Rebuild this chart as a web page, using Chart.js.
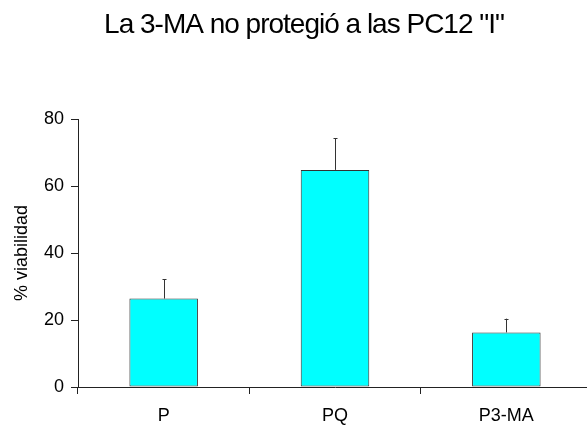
<!DOCTYPE html>
<html>
<head>
<meta charset="utf-8">
<script src="https://cdn.jsdelivr.net/npm/chart.js@4"></script>
<style>
  html, body { margin: 0; padding: 0; background: #fff; overflow: hidden; }
  #wrap { position: absolute; left: -8px; top: 0; width: 603px; height: 428px; }
</style>
</head>
<body>
<div id="wrap"><canvas id="grafico" width="603" height="428"></canvas></div>
<script>
const grupos = ['P', 'PQ', 'P3-MA']
const viabilidad = [26.4, 64.8, 16.3]
const errorEst = [5.7, 9.4, 4.1]
const ticksY = [0, 20, 40, 60, 80]
const titulo = 'La 3-MA no protegió a las PC12 "I"'

const fuente = '"Liberation Sans", Arial, sans-serif'
const lineaEje = '#222'

// barras de error (solo hacia arriba, con tope corto)
const barrasError = {
  id: 'barrasError',
  afterDatasetsDraw(chart) {
    const ctx = chart.ctx
    const meta = chart.getDatasetMeta(0)
    const y = chart.scales.y
    ctx.save()
    ctx.strokeStyle = '#333'
    ctx.lineWidth = 1
    meta.data.forEach((barra, i) => {
      const x = Math.round(barra.x) + 0.5
      const y0 = y.getPixelForValue(viabilidad[i])
      const y1 = y.getPixelForValue(viabilidad[i] + errorEst[i])
      ctx.beginPath()
      ctx.moveTo(x, y0)
      ctx.lineTo(x, y1)
      ctx.moveTo(x - 2, Math.round(y1) + 0.5)
      ctx.lineTo(x + 2, Math.round(y1) + 0.5)
      ctx.stroke()
    })
    ctx.restore()
  }
}

// titulo apretado (letra grande con poco espacio entre caracteres)
const tituloApretado = {
  id: 'tituloApretado',
  afterDraw(chart) {
    const ctx = chart.ctx
    ctx.save()
    ctx.font = '28px ' + fuente
    ctx.letterSpacing = '-1px'
    ctx.fillStyle = '#000'
    ctx.textAlign = 'center'
    ctx.textBaseline = 'alphabetic'
    ctx.fillText(titulo, 312, 33)
    ctx.restore()
  }
}

const ctx = document.getElementById('grafico').getContext('2d')
new Chart(ctx, {
  type: 'bar',
  data: {
    labels: grupos,
    datasets: [{
      label: '% viabilidad',
      data: viabilidad,
      backgroundColor: '#00ffff',
      borderColor: '#333',
      borderWidth: 1,
      borderSkipped: false,
      categoryPercentage: 1,
      barPercentage: 0.4
    }]
  },
  options: {
    responsive: false,
    animation: false,
    layout: { padding: { left: 0, right: 3, top: 119, bottom: 0 } },
    plugins: {
      legend: { display: false },
      tooltip: { enabled: false },
      title: { display: false }
    },
    scales: {
      x: {
        afterFit: (s) => { s.height = 41 },
        grid: {
          drawOnChartArea: false,
          drawTicks: true,
          tickLength: 7,
          tickColor: lineaEje,
          offset: true
        },
        border: { display: true, color: lineaEje, width: 1 },
        ticks: {
          color: '#000',
          padding: 11,
          font: { family: fuente, size: 18 }
        }
      },
      y: {
        min: 0,
        max: 80,
        afterFit: (s) => { s.width = 86 },
        afterBuildTicks: (s) => { s.ticks = ticksY.map(v => ({ value: v })) },
        grid: {
          drawOnChartArea: false,
          drawTicks: true,
          tickLength: 7,
          tickColor: lineaEje
        },
        border: { display: true, color: lineaEje, width: 1 },
        ticks: {
          color: '#000',
          padding: 7,
          font: { family: fuente, size: 18 }
        },
        title: {
          display: true,
          text: '% viabilidad',
          color: '#000',
          font: { family: fuente, size: 18 },
          padding: { top: 19, bottom: 0 }
        }
      }
    }
  },
  plugins: [barrasError, tituloApretado]
})
</script>
</body>
</html>
